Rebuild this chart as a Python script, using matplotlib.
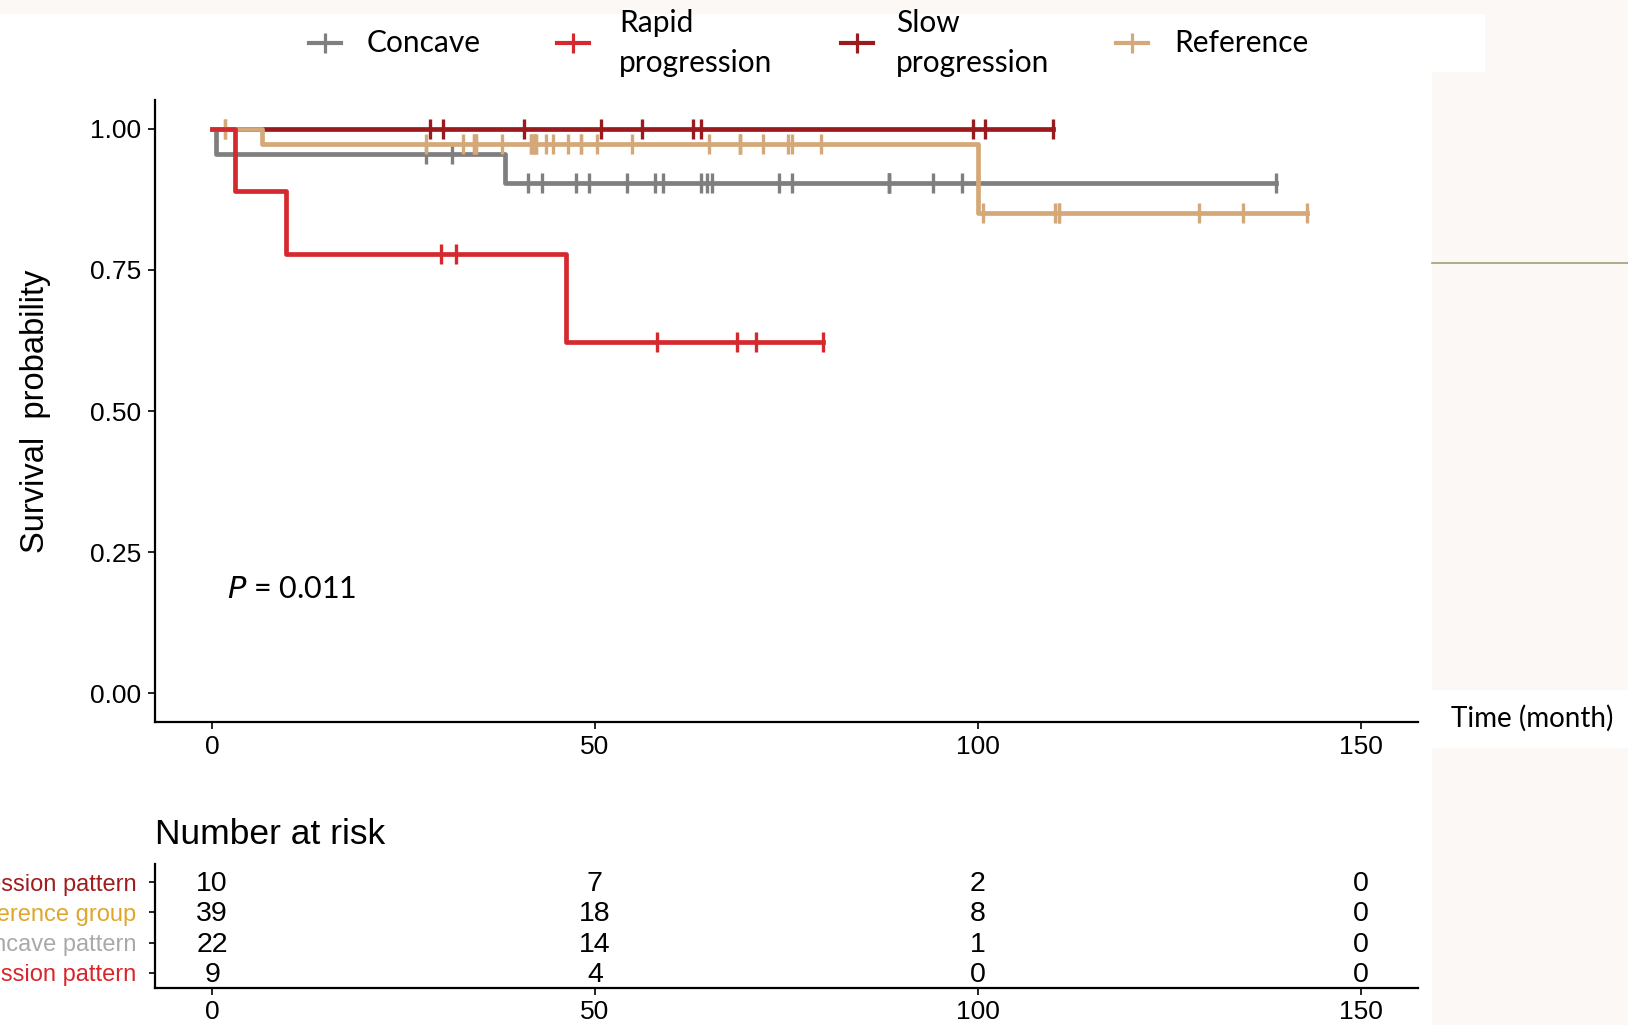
import numpy as np
import matplotlib
matplotlib.use("Agg")
import matplotlib.pyplot as plt
from matplotlib.lines import Line2D
from matplotlib.patches import Rectangle

plt.rcParams['font.family'] = ['Liberation Sans', 'DejaVu Sans']

# survival data (months, 1 = event, 0 = censored)
concave_time = [0.5, 27.9, 31.3, 38.3, 41.2, 43.1, 47.5, 49.2, 54.2, 57.9, 58.9,
                63.9, 64.6, 65.3, 74.1, 75.7, 88.4, 88.4, 88.4, 94.1, 98.0, 139.0]
concave_event = [1, 0, 0, 1, 0, 0, 0, 0, 0, 0, 0,
                 0, 0, 0, 0, 0, 0, 0, 0, 0, 0, 0]

rapid_time = [3.0, 9.6, 29.9, 31.8, 46.2, 58.1, 68.5, 71.1, 79.8]
rapid_event = [1, 1, 0, 0, 1, 0, 0, 0, 0]

slow_time = [28.5, 30.1, 40.7, 50.8, 56.2, 62.8, 63.9, 99.4, 101.0, 109.8]
slow_event = [0, 0, 0, 0, 0, 0, 0, 0, 0, 0]

ref_time = [1.7, 1.7, 6.5, 28.0, 32.8, 34.2, 34.2, 34.5, 34.5, 37.9, 41.7, 41.7,
            42.0, 42.0, 42.3, 42.3, 43.6, 44.5, 46.5, 48.2, 48.2,
            50.3, 54.9, 64.9, 68.9, 68.9, 68.9, 72.0, 75.2, 75.7, 79.5,
            100.0, 100.7, 110.1, 110.6, 110.6, 128.9, 134.7, 143.0]
ref_event = [0] * 39
ref_event[2] = 1
ref_event[31] = 1

groups = ["Concave", "Rapid\nprogression", "Slow\nprogression", "Reference"]
colors = ["#7f7f7f", "#d42a2f", "#9b1a1e", "#d4a878"]

# number at risk table
risk_times = [0, 50, 100, 150]
risk_labels = ["Slow progression pattern", "Reference group",
               "Concave pattern", "Rapid progression pattern"]
risk_colors = ["#a01c1e", "#e0a62c", "#a9a9a9", "#d8262c"]
risk_counts = [[10, 7, 2, 0],
               [39, 18, 8, 0],
               [22, 14, 1, 0],
               [9, 4, 0, 0]]

offwhite = "#fbf8f6"


def km(times, events):
    t = np.array(times)
    e = np.array(events)
    xs, ys = [0.0], [1.0]
    s = 1.0
    for u in np.unique(t[e == 1]):
        n = np.sum(t >= u)
        d = np.sum((t == u) & (e == 1))
        s *= 1 - d / n
        xs.append(u)
        ys.append(s)
    xs.append(t.max())
    ys.append(s)
    cx = t[e == 0]
    cy = [ys[np.searchsorted(xs[:-1], c, side='right') - 1] for c in cx]
    return xs, ys, cx, cy


fig = plt.figure(figsize=(16.28, 10.25), dpi=100)
fig.patch.set_facecolor("white")

# background bits of the composite picture
W, H = 1628, 1025
def fig_rect(x0, y0, x1, y1, c):
    fig.add_artist(Rectangle((x0 / W, 1 - y1 / H), (x1 - x0) / W, (y1 - y0) / H,
                             transform=fig.transFigure, color=c, lw=0, zorder=0))
fig_rect(0, 0, W, 14, offwhite)
fig_rect(1485, 14, W, 72, offwhite)
fig_rect(1432, 72, W, 690, offwhite)
fig_rect(1432, 748, W, H, offwhite)
fig.add_artist(Line2D([1432 / W, 1], [1 - 263 / H] * 2, transform=fig.transFigure,
                      color="#a39e76", lw=1.2))

ax = fig.add_axes([0.095, 0.296, 0.776, 0.606])
series = [(concave_time, concave_event), (rapid_time, rapid_event),
          (slow_time, slow_event), (ref_time, ref_event)]
zorders = [3, 5, 2, 4]
for (t, e), c, z in zip(series, colors, zorders):
    xs, ys, cx, cy = km(t, e)
    ax.plot(xs, ys, drawstyle='steps-post', color=c, lw=3.4, zorder=z)
    ax.plot(cx, cy, ls='none', marker='|', ms=14, mew=2.4, color=c, zorder=z)

ax.set_xlim(-7.5, 157.5)
ax.set_ylim(-0.05, 1.05)
ax.set_xticks([0, 50, 100, 150])
ax.set_yticks([0, 0.25, 0.5, 0.75, 1.0])
ax.set_yticklabels(["0.00", "0.25", "0.50", "0.75", "1.00"])
for s in ["top", "right"]:
    ax.spines[s].set_visible(False)
for s in ["left", "bottom"]:
    ax.spines[s].set_linewidth(1.6)
ax.tick_params(labelsize=19, length=5, width=1.2, pad=5)
ax.set_ylabel("Survival  probability", fontsize=23.5, labelpad=28)
ax.text(2.0, 0.184, "$P$ = 0.011", fontsize=22, family="Lato", va="center")

fig.text(1451 / W, 1 - 718 / H, "Time (month)", fontsize=20, family="Lato",
         va="center", ha="left")

# legend row
leg_mark_x = [325, 573, 857, 1132]
leg_text_x = [367, 619, 896, 1174]
leg_y = 1 - 43 / H
for g, c, mx, tx in zip(groups, colors, leg_mark_x, leg_text_x):
    fig.add_artist(Line2D([(mx - 16) / W, (mx + 16) / W], [leg_y, leg_y],
                          transform=fig.transFigure, color=c, lw=3.0))
    fig.add_artist(Line2D([mx / W], [leg_y], transform=fig.transFigure, color=c,
                          marker='|', ms=14, mew=2.3))
    fig.text(tx / W, leg_y, g, fontsize=21.5, family="Lato", va="center",
             ha="left", linespacing=1.55)

# risk table
rx = fig.add_axes([0.095, 0.0361, 0.776, 0.121])
rx.set_xlim(-7.5, 157.5)
rx.set_ylim(0.5, 4.6)
for i, row in enumerate(risk_counts):
    for t, n in zip(risk_times, row):
        rx.text(t, 4 - i - 0.07, str(n), ha="center", va="center", fontsize=20.5)
rx.set_yticks([4, 3, 2, 1])
rx.set_yticklabels(risk_labels)
for lab, c in zip(rx.get_yticklabels(), risk_colors):
    lab.set_color(c)
rx.set_xticks(risk_times)
for s in ["top", "right"]:
    rx.spines[s].set_visible(False)
for s in ["left", "bottom"]:
    rx.spines[s].set_linewidth(1.6)
rx.tick_params(axis='y', labelsize=17, length=4, width=1.2, pad=9)
rx.tick_params(axis='x', labelsize=19, length=5, width=1.2, pad=4)
fig.text(0.095, 1 - 835 / H, "Number at risk", fontsize=25.5, va="center", ha="left")

fig.savefig("out.png", dpi=100)
